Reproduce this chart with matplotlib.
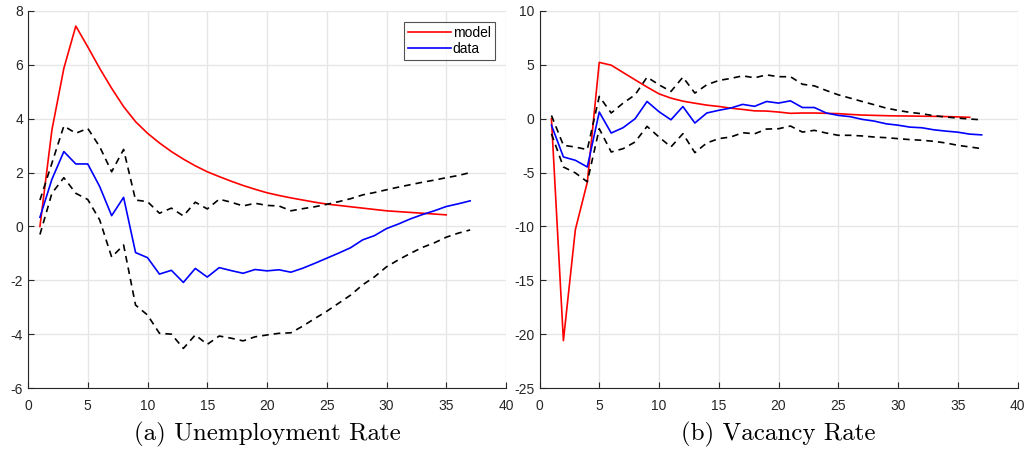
import matplotlib.pyplot as plt
import numpy as np

# ------------------------------------------------------------------
# data
# ------------------------------------------------------------------
t_model_u = np.arange(1, 36)
model_u = [0.0, 3.58, 5.87, 7.44, 6.67, 5.87, 5.13, 4.45, 3.89, 3.46,
           3.1, 2.78, 2.5, 2.25, 2.03, 1.85, 1.68, 1.52, 1.38, 1.25,
           1.15, 1.06, 0.98, 0.9, 0.83, 0.78, 0.73, 0.68, 0.63, 0.58,
           0.55, 0.52, 0.49, 0.46, 0.43]

t_data = np.arange(1, 38)
data_u = [0.34, 1.75, 2.78, 2.32, 2.32, 1.48, 0.40, 1.08, -0.97, -1.16,
          -1.77, -1.63, -2.08, -1.56, -1.88, -1.53, -1.64, -1.74, -1.6, -1.65,
          -1.61, -1.70, -1.55, -1.37, -1.18, -0.99, -0.79, -0.50, -0.34, -0.08,
          0.09, 0.28, 0.44, 0.58, 0.74, 0.84, 0.95]
upper_u = [0.98, 2.35, 3.73, 3.46, 3.64, 2.96, 2.03, 2.86, 0.98, 0.92,
           0.49, 0.68, 0.39, 0.90, 0.65, 1.01, 0.90, 0.76, 0.86, 0.78,
           0.76, 0.58, 0.66, 0.73, 0.82, 0.92, 1.03, 1.17, 1.26, 1.36,
           1.46, 1.55, 1.64, 1.72, 1.81, 1.89, 2.0]
lower_u = [-0.3, 1.23, 1.81, 1.23, 1.0, 0.24, -1.14, -0.69, -2.92, -3.29,
           -3.97, -4.0, -4.53, -4.03, -4.38, -4.07, -4.15, -4.25, -4.1, -4.03,
           -3.97, -3.95, -3.7, -3.42, -3.15, -2.85, -2.55, -2.17, -1.87, -1.5,
           -1.24, -1.0, -0.78, -0.61, -0.4, -0.25, -0.13]

t_model_v = np.arange(1, 37)
model_v = [0.0, -20.6, -10.3, -5.9, 5.23, 4.97, 4.29, 3.61, 2.94, 2.31,
           1.91, 1.63, 1.44, 1.26, 1.14, 0.98, 0.86, 0.73, 0.71, 0.62,
           0.5, 0.53, 0.53, 0.5, 0.47, 0.4, 0.34, 0.31, 0.28, 0.26,
           0.25, 0.23, 0.22, 0.2, 0.17, 0.13]
data_v = [-0.6, -3.55, -3.86, -4.48, 0.62, -1.33, -0.83, 0.0, 1.6, 0.65,
          -0.1, 1.13, -0.4, 0.53, 0.78, 0.99, 1.33, 1.15, 1.6, 1.45,
          1.66, 1.04, 1.04, 0.53, 0.31, 0.19, -0.06, -0.22, -0.47, -0.6,
          -0.78, -0.84, -1.03, -1.15, -1.25, -1.43, -1.5]
upper_v = [0.3, -2.47, -2.63, -2.87, 2.07, 0.53, 1.45, 2.22, 3.86, 3.15,
           2.53, 3.86, 2.38, 3.15, 3.55, 3.74, 3.98, 3.8, 4.07, 3.9,
           3.9, 3.2, 3.05, 2.62, 2.22, 1.91, 1.6, 1.3, 0.99, 0.77,
           0.59, 0.46, 0.28, 0.16, 0.06, -0.03, -0.1]
lower_v = [-1.4, -4.48, -5.03, -5.86, -0.93, -3.09, -2.78, -2.16, -0.71, -1.7,
           -2.62, -1.39, -3.15, -2.25, -1.85, -1.7, -1.3, -1.4, -0.96, -0.93,
           -0.68, -1.24, -1.08, -1.33, -1.54, -1.54, -1.6, -1.7, -1.76, -1.85,
           -1.94, -2.0, -2.1, -2.25, -2.47, -2.62, -2.78]

captions = ['(a) Unemployment Rate', '(b) Vacancy Rate']

# ------------------------------------------------------------------
# figure
# ------------------------------------------------------------------
W, H = 1028, 451
plt.rcParams['font.family'] = 'Liberation Sans'
plt.rcParams['axes.unicode_minus'] = False
fig = plt.figure(figsize=(W / 100, H / 100), dpi=100)

ax1 = fig.add_axes([28 / W, 1 - 388 / H, 478 / W, 377 / H])
ax2 = fig.add_axes([539.5 / W, 1 - 388 / H, 478 / W, 377 / H])

lw = 1.2
dash = (0, (4, 3))
ax1.plot(t_model_u, model_u, color='#ff0000', lw=lw, label='model')
ax1.plot(t_data, data_u, color='#0000ff', lw=lw, label='data')
ax1.plot(t_data, upper_u, color='black', lw=lw, ls=dash)
ax1.plot(t_data, lower_u, color='black', lw=lw, ls=dash)

ax2.plot(t_model_v, model_v, color='#ff0000', lw=lw)
ax2.plot(t_data, data_v, color='#0000ff', lw=lw)
ax2.plot(t_data, upper_v, color='black', lw=lw, ls=dash)
ax2.plot(t_data, lower_v, color='black', lw=lw, ls=dash)

ax1.set_ylim(-6, 8)
ax1.set_yticks(np.arange(-6, 9, 2))
ax2.set_ylim(-25, 10)
ax2.set_yticks(np.arange(-25, 11, 5))

for ax, cap in zip([ax1, ax2], captions):
    ax.set_xlim(0, 40)
    ax.set_xticks(np.arange(0, 41, 5))
    ax.grid(True, color='#e6e6e6', lw=1.0)
    ax.set_axisbelow(True)
    for side in ['top', 'right']:
        ax.spines[side].set_visible(False)
    for side in ['left', 'bottom']:
        ax.spines[side].set_color('#262626')
        ax.spines[side].set_linewidth(0.8)
    ax.tick_params(direction='in', length=4, width=0.8, colors='#262626',
                   labelsize=10, labelcolor='#262626')
    ax.tick_params(axis='x', pad=8)
    ax.text(0.5, -0.122, cap, transform=ax.transAxes, ha='center', va='center',
            fontsize=18, family='cmr10')

leg = ax1.legend(loc='upper right', bbox_to_anchor=(495 / W, 1 - 22 / H),
                 bbox_transform=fig.transFigure, fontsize=10, frameon=True,
                 fancybox=False, edgecolor='#262626', handlelength=3.1,
                 borderpad=0.3, labelspacing=0.12, handletextpad=0.15,
                 borderaxespad=0)
leg.get_frame().set_linewidth(0.8)

plt.savefig('out.png', dpi=100)
